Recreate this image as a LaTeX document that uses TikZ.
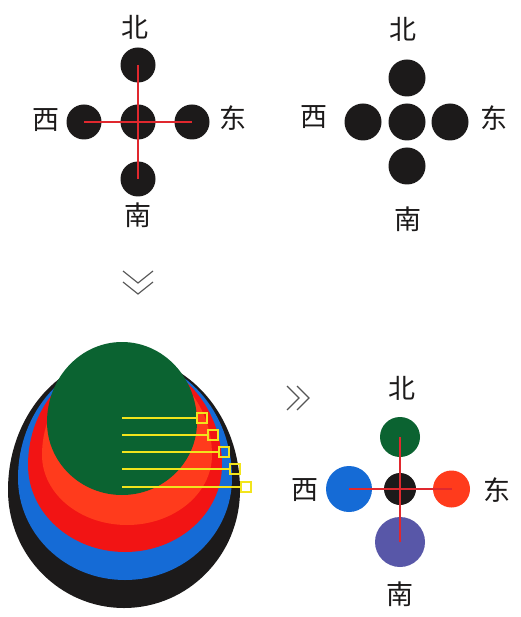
\documentclass[tikz,border=0pt]{standalone}
\usepackage{fontspec}
\newfontfamily\cjk{Noto Sans CJK SC}
\usepackage{xcolor}
\usetikzlibrary{positioning}
\definecolor{inkblack}{HTML}{1C1A1A}
\definecolor{eggGreen}{HTML}{0B6331}
\definecolor{eggOrange}{HTML}{FF3B1C}
\definecolor{eggRed}{HTML}{F21414}
\definecolor{eggBlue}{HTML}{156BD6}
\definecolor{dotPurple}{HTML}{5857A8}
\definecolor{crossRed}{HTML}{E0282E}
\definecolor{markYellow}{HTML}{F2E41C}
\definecolor{chevGray}{HTML}{555555}

\begin{document}
\begin{tikzpicture}[
  x=1pt,y=-1pt,
  dot/.style={circle,fill=inkblack,draw=none,inner sep=0pt,outer sep=0pt,minimum size=#1},
  dot/.default=35pt,
  lbl/.style={font=\cjk\fontsize{27}{27}\selectfont,text=inkblack,inner sep=0pt},
  cross/.style={draw=crossRed,line width=1.5pt},
  chev/.style={draw=chevGray,line width=1.1pt},
  yline/.style={draw=markYellow,line width=2.6pt},
  sq/.style={rectangle,draw=markYellow,line width=2.4pt,minimum size=10pt,inner sep=0pt}
]
\useasboundingbox (0,0) rectangle (520,617);
\fill[white] (0,0) rectangle (520,617);

\node[dot] (c1) at (138,122) {};
\node[dot,above=22pt of c1] (n1) {};
\node[dot,below=22pt of c1] (s1) {};
\node[dot,left=19pt of c1] (w1) {};
\node[dot,right=19pt of c1] (e1) {};
\node[lbl] (ln1) at (135,27) {北};
\node[lbl] (ls1) at (138,215) {南};
\node[lbl] (lw1) at (46,120) {西};
\node[lbl] (le1) at (233,118) {东};
\draw[cross] (n1.center) -- (s1.center);
\draw[cross] (w1.center) -- (e1.center);

\node[dot=37pt] (c2) at (407,122) {};
\node[dot=37pt,above=7pt of c2] (n2) {};
\node[dot=37pt,below=7pt of c2] (s2) {};
\node[dot=37pt,left=7pt of c2] (w2) {};
\node[dot=37pt,right=6pt of c2] (e2) {};
\node[lbl] (ln2) at (403,29) {北};
\node[lbl] (ls2) at (408,219) {南};
\node[lbl] (lw2) at (314,117) {西};
\node[lbl] (le2) at (494,118) {东};

\draw[chev] (123,271) -- (138,283) -- (153,271);
\draw[chev] (123,282) -- (138,294) -- (153,282);

\foreach \cx/\cy/\rx/\rt/\rb/\col in {124/490/116/134/118/inkblack,125/478/107/120/102/eggBlue,
  125/465/97/107/87/eggRed,127/455/85/94/70/eggOrange,122/422/75/80/73/eggGreen}
  \fill[\col] (\cx+\rx,\cy) arc[start angle=0,end angle=180,x radius=\rx pt,y radius=\rt pt]
    arc[start angle=180,end angle=360,x radius=\rx pt,y radius=\rb pt] -- cycle;

\foreach \i/\y/\x in {1/418/202,2/435/213,3/452/224,4/469/235,5/487/246} {
  \coordinate (y\i) at (122,\y);
  \node[sq] (q\i) at (\x,\y) {};
  \draw[yline] (y\i) -- (q\i.west);
}

\draw[chev] (287,386) -- (299,398) -- (287,410);
\draw[chev] (297,386) -- (309,398) -- (297,410);

\node[dot=32pt] (c3) at (400,489) {};
\node[dot=40pt,fill=eggGreen,above=16pt of c3] (n3) {};
\node[dot=50pt,fill=dotPurple,below=12pt of c3] (s3) {};
\node[dot=46pt,fill=eggBlue,left=12pt of c3] (w3) {};
\node[dot=37pt,fill=eggOrange,right=17pt of c3] (e3) {};
\draw[cross] (n3.center) -- (s3.center);
\draw[cross] (w3.center) -- (e3.center);
\node[lbl] (ln3) at (402,388) {北};
\node[lbl] (ls3) at (400,594) {南};
\node[lbl] (lw3) at (305,490) {西};
\node[lbl] (le3) at (497,490) {东};
\end{tikzpicture}
\end{document}
